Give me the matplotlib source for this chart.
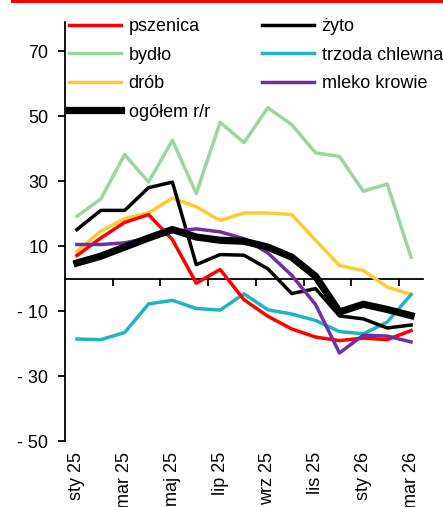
import numpy as np
import matplotlib
matplotlib.use('Agg')
import matplotlib.pyplot as plt
from matplotlib.lines import Line2D

plt.rcParams['font.family'] = ['Liberation Sans', 'DejaVu Sans']

# months Jan 2025 - Mar 2026
months = ['sty 25', 'lut 25', 'mar 25', 'kwi 25', 'maj 25', 'cze 25', 'lip 25', 'sie 25',
          'wrz 25', 'paź 25', 'lis 25', 'gru 25', 'sty 26', 'lut 26', 'mar 26']

# r/r changes, %
pszenica = [7.1, 12.5, 17.3, 19.7, 12.0, -1.4, 2.8, -6.5, -11.6, -15.5, -18.0, -19.1, -18.3, -18.8, -16.0]
zyto = [15.1, 21.0, 21.0, 28.0, 29.7, 4.3, 7.4, 7.2, 3.0, -4.6, -3.1, -11.5, -12.4, -15.2, -14.3]
bydlo = [19.2, 24.5, 38.2, 29.7, 42.6, 26.2, 48.1, 41.9, 52.6, 47.4, 38.7, 37.6, 26.9, 29.1, 6.6]
trzoda = [-18.6, -18.8, -16.6, -7.8, -6.7, -9.2, -9.7, -4.7, -9.6, -10.9, -12.9, -16.3, -17.0, -13.4, -4.9]
drob = [8.4, 14.6, 18.5, 20.2, 24.8, 22.1, 17.9, 20.2, 20.2, 19.7, 11.8, 4.0, 2.5, -2.6, -4.9]
mleko = [10.5, 10.5, 11.0, 12.5, 14.5, 15.3, 14.4, 12.3, 7.9, 1.0, -8.0, -22.9, -17.4, -17.7, -19.5]
ogolem = [4.8, 6.9, 9.7, 12.5, 15.1, 12.8, 11.8, 11.5, 9.7, 6.6, 0.7, -10.3, -7.9, -9.5, -11.4]

y_ticks = [-50, -30, -10, 10, 30, 50, 70]
y_labels = ['- 50', '- 30', '- 10', '10', '30', '50', '70']

fig = plt.figure(figsize=(4.43, 5.07), dpi=100)
ax = fig.add_axes([65/443, 66/507, 358/443, 419/507])

x = np.arange(len(months))
thin = 2.5
l_bydlo, = ax.plot(x, bydlo, color='#9DD49F', lw=thin, label='bydło', zorder=2)
l_drob, = ax.plot(x, drob, color='#FFC936', lw=thin, label='drób', zorder=3)
l_trzoda, = ax.plot(x, trzoda, color='#20B5BE', lw=thin, label='trzoda chlewna', zorder=4)
l_psz, = ax.plot(x, pszenica, color='#FF0000', lw=thin, label='pszenica', zorder=5)
l_zyto, = ax.plot(x, zyto, color='black', lw=thin, label='żyto', zorder=6)
l_mleko, = ax.plot(x, mleko, color='#7030A0', lw=thin, label='mleko krowie', zorder=7)
l_og, = ax.plot(x, ogolem, color='black', lw=5.2, label='ogółem r/r', zorder=8)

ax.set_xlim(-0.5, len(months) - 0.5)
ax.set_ylim(-50, 79)

# spines: only left one, zero line drawn via secondary axis
ax.spines['top'].set_visible(False)
ax.spines['right'].set_visible(False)
ax.spines['bottom'].set_visible(False)
ax.spines['left'].set_linewidth(1.3)

ax.set_yticks(y_ticks)
ax.set_yticklabels(y_labels)
ax.tick_params(axis='y', direction='out', length=5, width=1.3, labelsize=13, pad=7)

ax.set_xticks(x[::2])
ax.set_xticklabels(months[::2], rotation=90)
ax.tick_params(axis='x', length=0, labelsize=13, pad=8)

zero = ax.secondary_xaxis(50/129)
zero.spines['bottom'].set_linewidth(1.3)
zero.set_xticks(np.arange(1.5, len(months) - 1, 2))
zero.set_xticklabels([])
zero.tick_params(direction='out', length=5, width=1.3)

handles = [l_psz, l_bydlo, l_drob, l_og, l_zyto, l_trzoda, l_mleko]
ax.legend(handles=handles, loc='upper left', ncol=2, frameon=False,
          bbox_to_anchor=(69/443, 1 - 18/507), bbox_transform=fig.transFigure,
          borderpad=0, borderaxespad=0, fontsize=13, handlelength=2.9,
          handletextpad=0.4, columnspacing=2.9, labelspacing=0.64)

# red bar at top
fig.add_artist(Line2D([12/443, 1], [1 - 1.3/507, 1 - 1.3/507], color='#FF0000', lw=2.2,
                      transform=fig.transFigure))

fig.savefig('out.png', dpi=100)
